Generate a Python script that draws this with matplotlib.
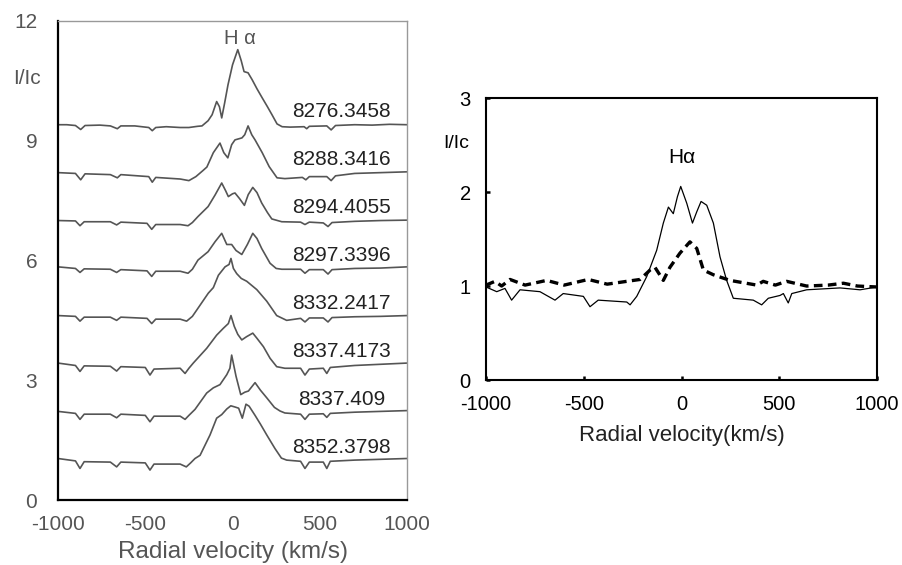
import matplotlib
matplotlib.use("Agg")
import matplotlib.pyplot as plt

plt.rcParams["font.family"] = ["Liberation Sans", "DejaVu Sans"]
plt.rcParams["axes.unicode_minus"] = False

# ---- left panel: H-alpha profiles, shifted by 1.2 each ----
dates = ["8276.3458", "8288.3416", "8294.4055", "8297.3396",
         "8332.2417", "8337.4173", "8337.409", "8352.3798"]
offsets = [8.4, 7.2, 6.0, 4.8, 3.6, 2.4, 1.2, 0.0]

v_8276 = [-1000, -950, -900, -870, -845, -760, -700, -660, -640, -560, -480, -460, -440,
          -380, -300, -250, -200, -175, -140, -117, -91, -75, -62, -45, -26, 0, 30, 50,
          66, 89, 112, 140, 169, 200, 226, 255, 284, 330, 410, 425, 440, 540, 565, 590,
          700, 800, 900, 1000]
i_8276 = [1.00, 1.00, 0.98, 0.88, 0.98, 0.99, 0.97, 0.90, 0.97, 0.97, 0.93, 0.85, 0.93,
          0.95, 0.93, 0.93, 0.96, 0.97, 1.10, 1.25, 1.58, 1.45, 1.17, 1.55, 2.00, 2.50, 2.88, 2.60,
          2.33, 2.30, 2.13, 1.90, 1.68, 1.45, 1.25, 1.02, 0.95, 0.94, 0.95, 0.90, 0.96, 0.97, 0.87, 0.98,
          1.00, 0.99, 1.01, 1.00]

v_8288 = [-1000, -900, -870, -845, -700, -660, -640, -480, -460, -440, -300, -250, -210,
          -170, -147, -110, -72, -50, -27, -5, 14, 54, 70, 89, 110, 129, 170, 210, 255,
          300, 400, 420, 440, 540, 565, 590, 700, 850, 1000]
i_8288 = [1.00, 0.98, 0.82, 0.97, 0.95, 0.87, 0.95, 0.90, 0.76, 0.88, 0.84, 0.80, 0.90,
          1.05, 1.14, 1.50, 1.74, 1.50, 1.37, 1.70, 1.82, 1.87, 1.95, 2.17, 1.95, 1.82, 1.50, 1.15, 0.87,
          0.85, 0.88, 0.82, 0.90, 0.90, 0.80, 0.92, 0.98, 1.00, 1.02]

v_8294 = [-1000, -900, -874, -850, -700, -664, -640, -490, -463, -440, -300, -255, -230,
          -198, -140, -100, -62, -40, -24, 0, 14, 40, 68, 90, 116, 140, 167, 200, 225,
          282, 390, 415, 440, 520, 547, 570, 700, 850, 1000]
i_8294 = [1.00, 0.99, 0.87, 0.97, 0.97, 0.89, 0.96, 0.93, 0.78, 0.90, 0.90, 0.87, 0.95,
          1.10, 1.35, 1.64, 1.94, 1.75, 1.60, 1.67, 1.69, 1.55, 1.38, 1.65, 1.83, 1.70, 1.44, 1.20, 1.04,
          0.97, 0.96, 0.90, 0.96, 0.94, 0.85, 0.95, 0.98, 1.00, 1.01]

v_8297 = [-1000, -900, -874, -850, -700, -664, -640, -490, -463, -440, -300, -255, -230,
          -198, -140, -100, -62, -33, -5, 20, 53, 85, 116, 140, 167, 215, 250,
          282, 390, 415, 440, 520, 547, 570, 700, 850, 1000]
i_8297 = [1.04, 1.00, 0.90, 0.99, 0.98, 0.90, 0.97, 0.94, 0.80, 0.93, 0.93, 0.88, 0.98,
          1.21, 1.42, 1.67, 1.88, 1.60, 1.60, 1.45, 1.35, 1.60, 1.88, 1.75, 1.50, 1.13, 1.00,
          0.98, 0.98, 0.88, 0.97, 0.97, 0.86, 0.97, 1.00, 1.01, 1.04]

v_8332 = [-1000, -900, -874, -850, -700, -664, -640, -490, -463, -440, -300, -263, -230,
          -186, -139, -110, -81, -43, -20, -9, 5, 24, 50, 81, 139, 196, 253, 310,
          390, 415, 440, 520, 547, 570, 700, 850, 1000]
i_8332 = [1.02, 1.00, 0.88, 0.98, 0.98, 0.90, 0.98, 0.95, 0.82, 0.93, 0.93, 0.88, 1.00,
          1.28, 1.58, 1.72, 2.03, 2.24, 2.30, 2.45, 2.20, 2.07, 1.95, 1.88, 1.67, 1.38, 1.02, 0.90,
          0.95, 0.86, 0.96, 0.96, 0.86, 0.97, 0.99, 1.00, 1.02]

v_8337a = [-1000, -900, -874, -850, -700, -664, -640, -500, -473, -450, -300, -272, -250,
           -225, -148, -91, -53, -24, -9, 10, 30, 53, 80, 116, 140, 177, 215, 253, 300,
           390, 415, 440, 520, 540, 560, 700, 850, 1000]
i_8337a = [1.03, 0.97, 0.82, 0.96, 0.95, 0.83, 0.94, 0.92, 0.73, 0.88, 0.90, 0.77, 0.90,
           1.03, 1.40, 1.73, 1.90, 2.02, 2.22, 1.95, 1.75, 1.61, 1.69, 1.78, 1.65, 1.44, 1.15, 0.94, 0.90,
           0.90, 0.73, 0.88, 0.90, 0.77, 0.92, 0.97, 1.00, 1.03]

v_8337b = [-1000, -900, -874, -850, -700, -664, -640, -500, -473, -450, -300, -272, -250,
           -215, -148, -110, -72, -33, -15, -5, 20, 47, 70, 91, 129, 160, 196, 240, 272, 300,
           390, 415, 440, 520, 540, 560, 700, 850, 1000]
i_8337b = [1.02, 0.97, 0.82, 0.95, 0.95, 0.86, 0.95, 0.92, 0.76, 0.90, 0.90, 0.82, 0.92,
           1.07, 1.48, 1.61, 1.69, 1.94, 2.10, 2.43, 1.90, 1.44, 1.50, 1.53, 1.74, 1.55, 1.36, 1.12, 1.03, 0.98,
           0.95, 0.82, 0.95, 0.96, 0.87, 0.97, 1.00, 1.02, 1.04]

v_8352 = [-1000, -900, -874, -850, -700, -664, -640, -500, -473, -450, -300, -265, -240,
          -215, -186, -129, -91, -62, -33, -10, 14, 35, 56, 77, 95, 129, 160, 196, 243, 280, 310,
          390, 415, 440, 520, 540, 560, 700, 850, 1000]
i_8352 = [1.04, 0.98, 0.79, 0.96, 0.95, 0.83, 0.95, 0.93, 0.75, 0.90, 0.90, 0.83, 0.93,
          1.04, 1.12, 1.63, 2.05, 2.14, 2.28, 2.36, 2.33, 2.30, 2.05, 2.40, 2.35, 2.12, 1.90, 1.63, 1.29, 1.05, 1.00,
          0.97, 0.79, 0.95, 0.95, 0.79, 0.97, 1.00, 1.02, 1.04]

left_v = [v_8276, v_8288, v_8294, v_8297, v_8332, v_8337a, v_8337b, v_8352]
left_i = [i_8276, i_8288, i_8294, i_8297, i_8332, i_8337a, i_8337b, i_8352]

# ---- right panel: two profiles ----
v_solid = [-1000, -945, -903, -869, -826, -724, -690, -647, -605, -502, -468, -426, -280,
           -263, -229, -178, -127, -93, -67, -42, -21, -4, 27, 56, 78, 100, 129, 163, 197,
           231, 265, 367, 410, 444, 504, 521, 546, 564, 640, 811, 913, 1000]
i_solid = [0.99, 0.94, 0.975, 0.85, 0.96, 0.94, 0.90, 0.85, 0.92, 0.89, 0.78, 0.85, 0.83,
           0.80, 0.89, 1.10, 1.38, 1.67, 1.84, 1.77, 1.95, 2.06, 1.88, 1.67, 1.79, 1.90, 1.86, 1.67, 1.31,
           1.06, 0.87, 0.85, 0.80, 0.87, 0.90, 0.92, 0.82, 0.92, 0.96, 0.98, 0.96, 0.99]

v_dash = [-1000, -954, -920, -877, -800, -690, -600, -477, -380, -280, -212, -161, -136,
          -93, -59, -8, 43, 78, 112, 163, 248, 385, 418, 480, 538, 640, 750, 828, 900, 1000]
i_dash = [1.01, 1.05, 1.00, 1.07, 1.01, 1.06, 1.01, 1.07, 1.02, 1.05, 1.07, 1.17, 1.20,
          1.06, 1.20, 1.35, 1.47, 1.40, 1.17, 1.12, 1.06, 1.01, 1.05, 1.01, 1.05, 1.00, 1.01, 1.03, 1.00, 0.99]

fig = plt.figure(figsize=(9.02, 5.65), dpi=100)

gray = "#555555"

# left panel
ax1 = fig.add_axes([0.0643, 0.115, 0.387, 0.848])
for vs, ii, off, d in zip(left_v, left_i, offsets, dates):
    ax1.plot(vs, [x + off for x in ii], color=gray, lw=1.2)
    ax1.text(625, off + 1.32, d, ha="center", va="center", fontsize=15, color="#222222")
ax1.set_xlim(-1000, 1000)
ax1.set_ylim(0, 12)
ax1.set_xticks([-1000, -500, 0, 500, 1000])
ax1.set_yticks([0, 3, 6, 9, 12])
ax1.tick_params(length=0, labelsize=15, labelcolor=gray)
ax1.tick_params(axis="y", pad=15)
ax1.tick_params(axis="x", pad=11)
for s in ["left", "bottom"]:
    ax1.spines[s].set_color("black")
    ax1.spines[s].set_linewidth(1.6)
for s in ["top", "right"]:
    ax1.spines[s].set_color("#999999")
    ax1.spines[s].set_linewidth(1.0)
ax1.set_xlabel("Radial velocity (km/s)", fontsize=17.5, color=gray, labelpad=5)
ax1.text(-0.088, 0.88, "I/Ic", transform=ax1.transAxes, ha="center", va="center",
         fontsize=15, color=gray)
ax1.text(40, 11.55, "H α", ha="center", va="center", fontsize=14.5, color=gray)

# right panel
ax2 = fig.add_axes([0.5388, 0.3274, 0.4335, 0.499])
ax2.plot(v_solid, i_solid, color="black", lw=0.9)
ax2.plot(v_dash, i_dash, color="black", lw=2.4, dashes=(2.6, 1.6))
ax2.set_xlim(-1000, 1000)
ax2.set_ylim(0, 3)
ax2.set_xticks([-1000, -500, 0, 500, 1000])
ax2.set_yticks([0, 1, 2, 3])
ax2.tick_params(direction="in", length=3, width=1.8, labelsize=14.5, labelcolor="black")
ax2.tick_params(axis="y", pad=11)
ax2.tick_params(axis="x", pad=11)
for s in ax2.spines.values():
    s.set_color("black")
    s.set_linewidth(1.5)
ax2.set_xlabel("Radial velocity(km/s)", fontsize=16, color="#222222", labelpad=8)
ax2.text(-0.075, 0.84, "I/Ic", transform=ax2.transAxes, ha="center", va="center",
         fontsize=14, color="black")
ax2.text(0, 2.37, "Hα", ha="center", va="center", fontsize=15, color="black")

fig.savefig("out.png", dpi=100)
